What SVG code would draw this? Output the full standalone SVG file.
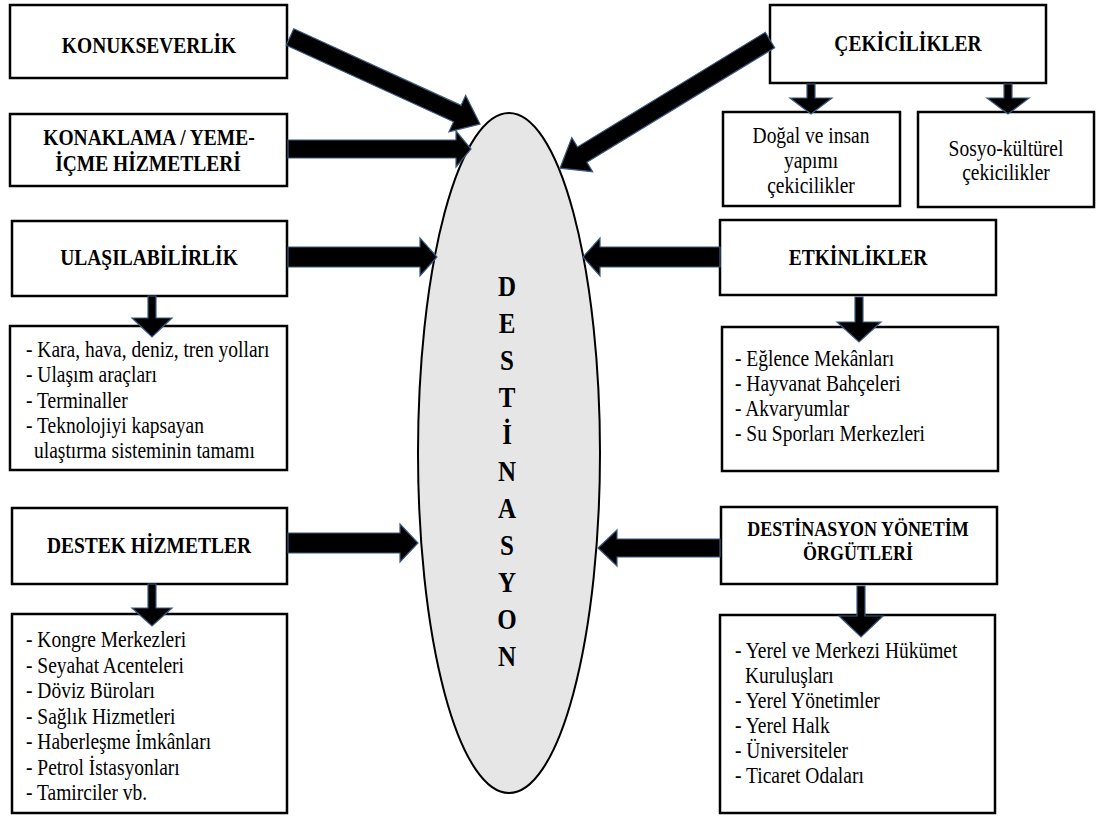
<svg xmlns="http://www.w3.org/2000/svg" width="1096" height="816" viewBox="0 0 1096 816">
  <style>
    .box { fill: #ffffff; stroke: #000000; stroke-width: 2.5; }
    .arrow { fill: #000000; stroke: #3a5a80; stroke-width: 1.2; stroke-linejoin: miter; }
    text { font-family: 'Liberation Serif', 'Times New Roman', Times, serif; fill: #000; }
    .title { font-weight: bold; font-size: 19.5px; text-anchor: middle; }
    .title-sm { font-weight: bold; font-size: 18px; text-anchor: middle; }
    .item { font-size: 19.5px; }
    .center { text-anchor: middle; }
    .core { font-weight: bold; font-size: 25px; text-anchor: middle; }
  </style>
  <rect width="1096" height="816" fill="#ffffff"/>

  <!-- central destination ellipse; lettering uses a slightly tall type (scale 1 x 1.15) -->
  <g id="destinasyon">
    <ellipse cx="509" cy="453" rx="91" ry="340" fill="#e6e6e6" stroke="#000" stroke-width="2"/>
    <text class="core" transform="translate(507,296) scale(1,1.15)">D</text>
    <text class="core" transform="translate(507,333) scale(1,1.15)">E</text>
    <text class="core" transform="translate(507,370) scale(1,1.15)">S</text>
    <text class="core" transform="translate(507,407) scale(1,1.15)">T</text>
    <text class="core" transform="translate(507,444) scale(1,1.15)">İ</text>
    <text class="core" transform="translate(507,481) scale(1,1.15)">N</text>
    <text class="core" transform="translate(507,518) scale(1,1.15)">A</text>
    <text class="core" transform="translate(507,555) scale(1,1.15)">S</text>
    <text class="core" transform="translate(507,592) scale(1,1.15)">Y</text>
    <text class="core" transform="translate(507,629) scale(1,1.15)">O</text>
    <text class="core" transform="translate(507,666) scale(1,1.15)">N</text>
  </g>

  <g id="konukseverlik">
    <rect class="box" x="10" y="5" width="277" height="73"/>
    <text class="title" transform="translate(149,53) scale(1,1.15)">KONUKSEVERLİK</text>
  </g>

  <g id="konaklama">
    <rect class="box" x="10" y="114" width="277" height="72"/>
    <text class="title" transform="translate(149,145) scale(1,1.15)">KONAKLAMA / YEME-</text>
    <text class="title" transform="translate(148,171) scale(1,1.15)">İÇME HİZMETLERİ</text>
  </g>

  <g id="ulasilabilirlik">
    <rect class="box" x="12" y="221" width="275" height="75"/>
    <text class="title" transform="translate(149,265) scale(1,1.15)">ULAŞILABİLİRLİK</text>
  </g>

  <g id="ulasilabilirlik-detay">
    <rect class="box" x="10" y="326" width="277" height="144"/>
    <text class="item" transform="translate(26,357) scale(1,1.15)">- Kara, hava, deniz, tren yolları</text>
    <text class="item" transform="translate(26,382) scale(1,1.15)">- Ulaşım araçları</text>
    <text class="item" transform="translate(26,407.5) scale(1,1.15)">- Terminaller</text>
    <text class="item" transform="translate(26,433) scale(1,1.15)">- Teknolojiyi kapsayan</text>
    <text class="item" transform="translate(34,458) scale(1,1.15)">ulaştırma sisteminin tamamı</text>
  </g>

  <g id="destek-hizmetler">
    <rect class="box" x="12" y="508" width="275" height="76"/>
    <text class="title" transform="translate(149,553) scale(1,1.15)">DESTEK HİZMETLER</text>
  </g>

  <g id="destek-detay">
    <rect class="box" x="12" y="614" width="275" height="199"/>
    <text class="item" transform="translate(26,647) scale(1,1.15)">- Kongre Merkezleri</text>
    <text class="item" transform="translate(26,672.5) scale(1,1.15)">- Seyahat Acenteleri</text>
    <text class="item" transform="translate(26,698) scale(1,1.15)">- Döviz Büroları</text>
    <text class="item" transform="translate(26,723.5) scale(1,1.15)">- Sağlık Hizmetleri</text>
    <text class="item" transform="translate(26,749) scale(1,1.15)">- Haberleşme İmkânları</text>
    <text class="item" transform="translate(26,774.5) scale(1,1.15)">- Petrol İstasyonları</text>
    <text class="item" transform="translate(26,800) scale(1,1.15)">- Tamirciler vb.</text>
  </g>

  <g id="cekicilikler">
    <rect class="box" x="770" y="5" width="276" height="78"/>
    <text class="title" transform="translate(908,51) scale(1,1.15)">ÇEKİCİLİKLER</text>
  </g>

  <g id="dogal-cekicilikler">
    <rect class="box" x="723" y="112" width="177" height="94"/>
    <text class="item center" transform="translate(811,143) scale(1,1.15)">Doğal ve insan</text>
    <text class="item center" transform="translate(811,168) scale(1,1.15)">yapımı</text>
    <text class="item center" transform="translate(811,193) scale(1,1.15)">çekicilikler</text>
  </g>

  <g id="sosyo-kulturel">
    <rect class="box" x="918" y="112" width="176" height="95"/>
    <text class="item center" transform="translate(1006,156) scale(1,1.15)">Sosyo-kültürel</text>
    <text class="item center" transform="translate(1006,180) scale(1,1.15)">çekicilikler</text>
  </g>

  <g id="etkinlikler">
    <rect class="box" x="720" y="220" width="276" height="75"/>
    <text class="title" transform="translate(858,265) scale(1,1.15)">ETKİNLİKLER</text>
  </g>

  <g id="etkinlikler-detay">
    <rect class="box" x="722" y="327" width="276" height="144"/>
    <text class="item" transform="translate(735,366) scale(1,1.15)">- Eğlence Mekânları</text>
    <text class="item" transform="translate(735,391) scale(1,1.15)">- Hayvanat Bahçeleri</text>
    <text class="item" transform="translate(735,416) scale(1,1.15)">- Akvaryumlar</text>
    <text class="item" transform="translate(735,441) scale(1,1.15)">- Su Sporları Merkezleri</text>
  </g>

  <g id="yonetim-orgutleri">
    <rect class="box" x="721" y="507" width="276" height="77"/>
    <text class="title-sm" transform="translate(858,536) scale(1,1.15)">DESTİNASYON YÖNETİM</text>
    <text class="title-sm" transform="translate(858,560) scale(1,1.15)">ÖRGÜTLERİ</text>
  </g>

  <g id="yonetim-detay">
    <rect class="box" x="720" y="615" width="275" height="198"/>
    <text class="item" transform="translate(735,658) scale(1,1.15)">- Yerel ve Merkezi Hükümet</text>
    <text class="item" transform="translate(745,683) scale(1,1.15)">Kuruluşları</text>
    <text class="item" transform="translate(735,708) scale(1,1.15)">- Yerel Yönetimler</text>
    <text class="item" transform="translate(735,733) scale(1,1.15)">- Yerel Halk</text>
    <text class="item" transform="translate(735,758) scale(1,1.15)">- Üniversiteler</text>
    <text class="item" transform="translate(735,783) scale(1,1.15)">- Ticaret Odaları</text>
  </g>

  <!-- connectors, drawn last so the arrowheads sit over box edges -->
  <g id="connectors">
    <!-- left side into the ellipse -->
    <path class="arrow" transform="translate(290,37) rotate(24.6)" d="M0,-9 H184 V-20 L209,0 L184,20 V9 H0 Z"/>
    <path class="arrow" d="M288,140 H456 V131 L471,149 L456,167 V158 H288 Z"/>
    <path class="arrow" d="M288,247 H420 V238 L437,257 L420,276 V267 H288 Z"/>
    <path class="arrow" d="M288,533 H400 V524 L418,543 L400,562 V553 H288 Z"/>
    <!-- right side into the ellipse -->
    <path class="arrow" transform="translate(770,40) rotate(148.6)" d="M0,-9 H220 V-20 L246,0 L220,20 V9 H0 Z"/>
    <path class="arrow" d="M720,247 H600 V238 L583,257 L600,276 V267 H720 Z"/>
    <path class="arrow" d="M720,539 H617 V530 L598,548 L617,566 V557 H720 Z"/>
    <!-- down arrows to detail boxes -->
    <path class="arrow" d="M148,296 V318 H132 L152,337 L172,318 H156 V296 Z"/>
    <path class="arrow" d="M148,584 V608 H132 L152,626 L172,608 H156 V584 Z"/>
    <path class="arrow" d="M855,297 V322 H837 L859,342 L881,322 H863 V297 Z"/>
    <path class="arrow" d="M857,586 V616 H839 L861,637 L883,616 H865 V586 Z"/>
    <path class="arrow" d="M807,84 V98 H790 L811,114 L832,98 H815 V84 Z"/>
    <path class="arrow" d="M1004,84 V98 H987 L1008,114 L1029,98 H1012 V84 Z"/>
  </g>
</svg>
